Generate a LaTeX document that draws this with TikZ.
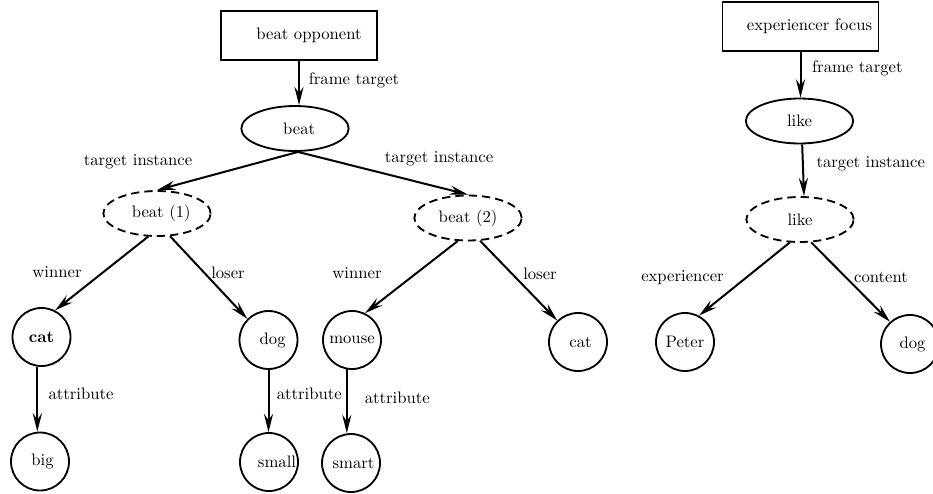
\documentclass[tikz,border=0pt]{standalone}
\usetikzlibrary{arrows.meta,shapes.geometric}
\begin{document}
\begin{tikzpicture}[x=0.6pt,y=-0.6pt,
  every node/.style={font=\fontsize{10}{12}\selectfont},
  framebox/.style={draw,line width=1.1pt,rectangle,minimum width=93.6pt,minimum height=29.4pt,inner sep=0pt},
  target/.style={draw,line width=1.1pt,ellipse,minimum width=64.4pt,minimum height=27pt,inner sep=0pt},
  instance/.style={target,dash pattern=on 5pt off 3pt},
  entity/.style={draw,line width=1.1pt,circle,minimum size=34.8pt,inner sep=0pt},
  lbl/.style={inner sep=0pt},
  rel/.style={line width=1.2pt,-{Stealth[length=11pt,width=5.5pt,inset=3.8pt]}}]
\clip (0,0) rectangle (933,493);

% left frame: beat opponent
\node[framebox] (op) at (299,35.5) {\hspace*{12pt}beat opponent};
\node[target]   (beat) at (295,128.5) {\hspace*{5pt}beat};
\node[instance] (b1) at (157,213.5) {\hspace*{5pt}beat (1)};
\node[instance] (b2) at (468,218) {beat (2)};
\node[entity] (cat)   at (41.5,337) {\textbf{cat}};
\node[entity] (dog)   at (268.5,340) {\hspace*{5pt}dog};
\node[entity] (mouse) at (352,340) {mouse};
\node[entity] (catb)  at (578,342) {\hspace*{3pt}cat};
\node[entity] (big)   at (40,461.5) {\hspace*{3pt}big};
\node[entity] (small) at (269,462) {\hspace*{9.6pt}small};
\node[entity] (smart) at (351,463) {\hspace*{3pt}smart};

% right frame: experiencer focus
\node[framebox] (ef)    at (800.5,26.3) {\hspace*{10.8pt}experiencer focus};
\node[target]   (like)  at (799.5,121) {like};
\node[instance] (like2) at (800,219.5) {like};
\node[entity] (peter) at (685,342) {Peter};
\node[entity] (dogb)  at (910,344) {\hspace*{3pt}dog};

% edges
\draw[rel] (op.south) -- (op.south |- beat.north);
\draw[rel] ([xshift=1.8pt]beat.south) -- (b1.north);
\draw[rel] ([xshift=1.8pt]beat.south) -- (b2.north);
\draw[rel] (b1.249) -- (cat.63);
\draw[rel] (b1.300) -- (dog.135);
\draw[rel] (b2.246) -- (mouse.64);
\draw[rel] (b2.298) -- (catb.134);
\draw[rel] (cat.262) -- (cat.262 |- big.north);
\draw[rel] (dog.south) -- (dog.south |- small.north);
\draw[rel] (mouse.260) -- (mouse.260 |- smart.north);
\draw[rel] (ef.south) -- (ef.south |- like.north);
\draw[rel] ([xshift=1.6pt]like.south) -- ([xshift=2.4pt]like2.north);
\draw[rel] (like2.246) -- (peter.62);
\draw[rel] (like2.296) -- (dogb.132);

% edge labels
\node[lbl] (l1)  at (354,80.7)  {frame target};
\node[lbl] (l2)  at (138,161.7) {target instance};
\node[lbl] (l3)  at (439,158.3) {target instance};
\node[lbl] (l4)  at (57,272.5)  {winner};
\node[lbl] (l5)  at (228,272.5) {loser};
\node[lbl] (l6)  at (357,273)   {winner};
\node[lbl] (l7)  at (540,274)   {loser};
\node[lbl] (l8)  at (81,394)    {attribute};
\node[lbl] (l9)  at (309.3,393.3) {attribute};
\node[lbl] (l10) at (397.3,397.3) {attribute};
\node[lbl] (l11) at (857.3,68.3) {frame target};
\node[lbl] (l12) at (870.8,163.3) {target instance};
\node[lbl] (l13) at (682.5,277.3) {experiencer};
\node[lbl] (l14) at (881,277)   {content};
\end{tikzpicture}
\end{document}
